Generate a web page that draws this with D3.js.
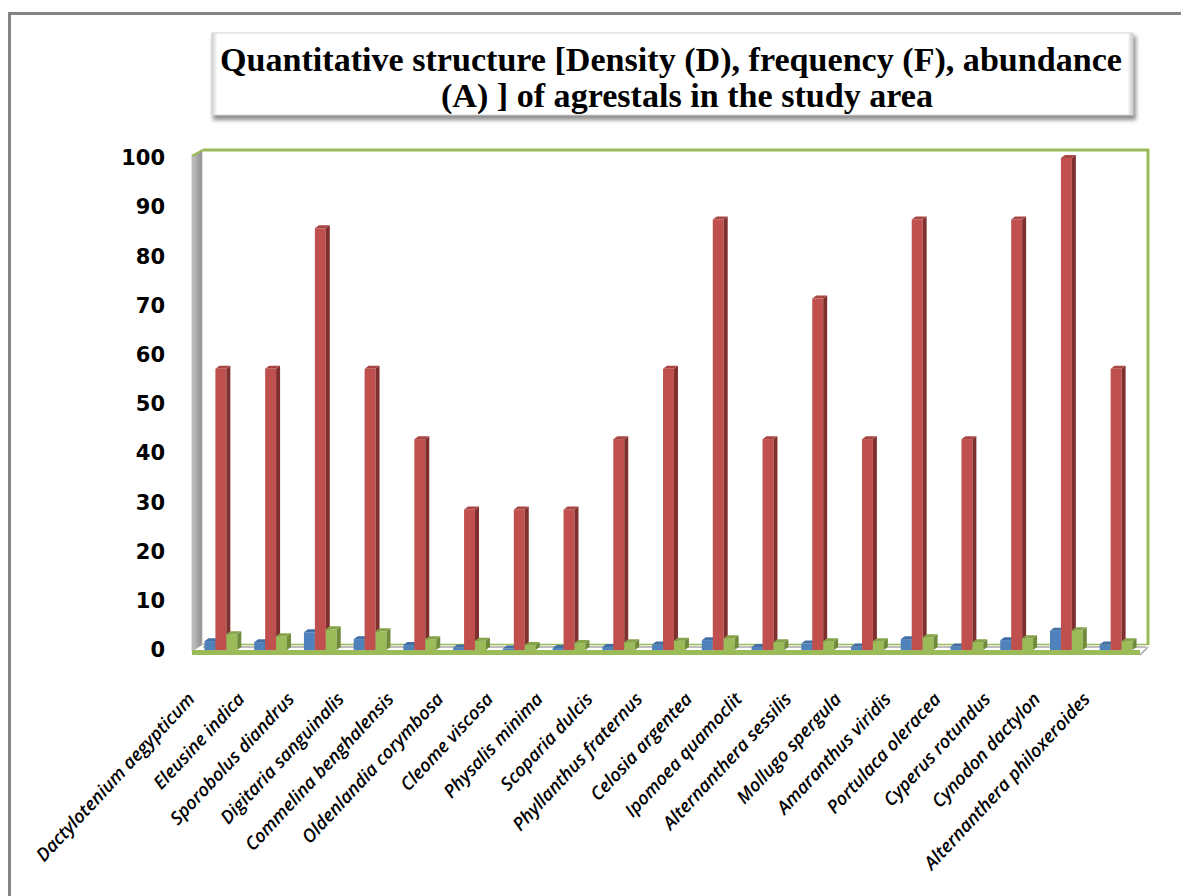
<!DOCTYPE html>
<html>
<head>
<meta charset="utf-8">
<script src="https://cdn.jsdelivr.net/npm/d3@7"></script>
<style>
  html, body { margin: 0; padding: 0; background: #ffffff; }
  svg { display: block; }
</style>
</head>
<body>
<svg id="chart" width="1181" height="896"></svg>
<script>
// ---- data ----
const categories = [
  "Dactylotenium aegypticum", "Eleusine indica", "Sporobolus diandrus",
  "Digitaria sanguinalis", "Commelina benghalensis", "Oldenlandia corymbosa",
  "Cleome viscosa", "Physalis minima", "Scoparia dulcis", "Phyllanthus fraternus",
  "Celosia argentea", "Ipomoea quamoclit", "Alternanthera sessilis",
  "Mollugo spergula", "Amaranthus viridis", "Portulaca oleracea",
  "Cyperus rotundus", "Cynodon dactylon", "Alternanthera philoxeroides"
];
const density   = [1.8, 1.6, 3.6, 2.2, 1.0, 0.5, 0.3, 0.4, 0.6, 1.1, 2.0, 0.6, 1.3, 0.7, 2.2, 0.7, 2.0, 3.9, 1.1];
const frequency = [57.14, 57.14, 85.71, 57.14, 42.86, 28.57, 28.57, 28.57, 42.86, 57.14, 87.5, 42.86, 71.43, 42.86, 87.5, 42.86, 87.5, 100, 57.14];
const abundance = [3.2, 2.8, 4.2, 3.8, 2.2, 1.9, 1.0, 1.4, 1.6, 1.9, 2.4, 1.6, 1.8, 1.8, 2.6, 1.6, 2.4, 4.0, 1.8];
const seriesNames = ["Density (D)", "Frequency (F)", "Abundance (A)"];
const yTicks = [0, 10, 20, 30, 40, 50, 60, 70, 80, 90, 100];
const titleLines = [
  "Quantitative structure [Density (D), frequency (F), abundance",
  "(A) ] of agrestals in the study area"
];

// ---- styling ----
const faceColors = [
  { front: "#4f81bd", side: "#385d8a", top: "#416fa6" },
  { front: "#c0504d", side: "#7f302e", top: "#a94643" },
  { front: "#9bbb59", side: "#6e8a3a", top: "#86a34a" }
];
const wallGreen = "#9bbb59";

const svg = d3.select("#chart");
const defs = svg.append("defs");

// outer chart border
svg.append("rect")
  .attr("x", 9.5).attr("y", 13.5)
  .attr("width", 1300).attr("height", 1000)
  .attr("fill", "#ffffff")
  .attr("stroke", "#858585").attr("stroke-width", 3);

// ---- title box ----
const blur = defs.append("filter").attr("id", "soft").attr("x", "-5%").attr("y", "-20%").attr("width", "110%").attr("height", "150%");
blur.append("feGaussianBlur").attr("stdDeviation", 2);

const tb = { x: 212, y: 33, w: 921, h: 82 };
svg.append("rect")
  .attr("x", tb.x + 1).attr("y", tb.y + 3)
  .attr("width", tb.w + 2).attr("height", tb.h + 2)
  .attr("fill", "#8c8c8c").attr("filter", "url(#soft)");
const tbGrad = defs.append("linearGradient").attr("id", "tbGrad").attr("x1", 0).attr("x2", 1).attr("y1", 0).attr("y2", 0);
tbGrad.append("stop").attr("offset", "0").attr("stop-color", "#d0d0d0");
tbGrad.append("stop").attr("offset", "0.006").attr("stop-color", "#ffffff");
tbGrad.append("stop").attr("offset", "0.994").attr("stop-color", "#ffffff");
tbGrad.append("stop").attr("offset", "1").attr("stop-color", "#c8c8c8");
svg.append("rect")
  .attr("x", tb.x).attr("y", tb.y)
  .attr("width", tb.w).attr("height", tb.h)
  .attr("fill", "url(#tbGrad)")
  .attr("stroke", "#d6d6d6").attr("stroke-width", 1);

const titleFont = "'Liberation Serif', 'DejaVu Serif', serif";
const t1 = svg.append("text")
  .attr("x", 671).attr("y", 71)
  .attr("text-anchor", "middle")
  .style("font-family", titleFont).style("font-weight", "bold").style("font-size", "33px")
  .attr("fill", "#000")
  .text(titleLines[0]);
const t2 = svg.append("text")
  .attr("x", 687).attr("y", 107)
  .attr("text-anchor", "middle")
  .style("font-family", titleFont).style("font-weight", "bold").style("font-size", "33px")
  .attr("fill", "#000")
  .text(titleLines[1]);
// condense the serif lines to the box width
const squeeze = 902 / t1.node().getComputedTextLength();
t1.attr("textLength", 902).attr("lengthAdjust", "spacingAndGlyphs");
t2.attr("textLength", t2.node().getComputedTextLength() * squeeze).attr("lengthAdjust", "spacingAndGlyphs");

// ---- 3D frame ----
const wall = { left: 203, right: 1148, top: 150, bottom: 645 };
const floorFront = { left: 192, right: 1140, top: 650, bottom: 655 };

// back wall
svg.append("rect")
  .attr("x", wall.left).attr("y", wall.top)
  .attr("width", wall.right - wall.left).attr("height", wall.bottom - wall.top)
  .attr("fill", "#ffffff");

// side wall (grey)
const sideGrad = defs.append("linearGradient").attr("id", "sideGrad").attr("x1", 0).attr("x2", 1).attr("y1", 0).attr("y2", 0);
sideGrad.append("stop").attr("offset", "0").attr("stop-color", "#c4c4c4");
sideGrad.append("stop").attr("offset", "1").attr("stop-color", "#8e8e8e");
svg.append("polygon")
  .attr("points", [[192, 156], [202, 150], [202, 645], [192, 651]].join(" "))
  .attr("fill", "url(#sideGrad)")
  .attr("stroke", "#b0b0b0").attr("stroke-width", 0.8);
svg.append("line")
  .attr("x1", 192).attr("y1", 156).attr("x2", 203).attr("y2", 150)
  .attr("stroke", wallGreen).attr("stroke-width", 2.5);

// wall edges (green)
svg.append("path")
  .attr("d", `M${wall.left},${wall.top}H${wall.right}V${wall.bottom}`)
  .attr("fill", "none").attr("stroke", wallGreen).attr("stroke-width", 3);

// floor back edges
svg.append("line")
  .attr("x1", wall.left).attr("x2", wall.right).attr("y1", wall.bottom - 0.5).attr("y2", wall.bottom - 0.5)
  .attr("stroke", wallGreen).attr("stroke-width", 1.6);
svg.append("line")
  .attr("x1", wall.left).attr("x2", wall.right - 2).attr("y1", wall.bottom + 2).attr("y2", wall.bottom + 2)
  .attr("stroke", "#a9a9a9").attr("stroke-width", 1.4);

// ---- scales ----
const y = d3.scaleLinear().domain([0, 100]).range([floorFront.top, 158]);
const x = d3.scaleBand().domain(categories).range([196, 1141]).paddingInner(0.34).paddingOuter(0.17);
const xs = d3.scaleBand().domain(seriesNames).range([0, x.bandwidth()]);
const depth = { dx: 4, dy: -3 };

const seriesValues = [density, frequency, abundance];

// ---- bars ----
const barsG = svg.append("g");
categories.forEach((cat, i) => {
  seriesNames.forEach((s, k) => {
    const v = seriesValues[k][i];
    const bx = x(cat) + xs(s);
    const w = xs.bandwidth();
    const yt = y(v), yb = y(0);
    const c = faceColors[k];
    const g = barsG.append("g");
    g.append("rect")
      .attr("x", bx).attr("y", yt).attr("width", w).attr("height", yb - yt)
      .attr("fill", c.front);
    g.append("polygon")
      .attr("points", [[bx + w, yt], [bx + w + depth.dx, yt + depth.dy], [bx + w + depth.dx, yb + depth.dy], [bx + w, yb]].join(" "))
      .attr("fill", c.side);
    g.append("polygon")
      .attr("points", [[bx, yt], [bx + depth.dx, yt + depth.dy], [bx + w + depth.dx, yt + depth.dy], [bx + w, yt]].join(" "))
      .attr("fill", c.top);
  });
});

// floor front band
svg.append("polygon")
  .attr("points", [[floorFront.left, floorFront.top], [floorFront.right, floorFront.top],
                   [floorFront.right, floorFront.bottom], [floorFront.left, floorFront.bottom]].join(" "))
  .attr("fill", wallGreen);
svg.append("line")
  .attr("x1", floorFront.right).attr("y1", floorFront.bottom)
  .attr("x2", wall.right).attr("y2", wall.bottom + 2)
  .attr("stroke", "#a0a0a0").attr("stroke-width", 1.5);

// ---- y axis labels ----
const yAxis = d3.axisLeft(y).tickValues(yTicks).tickSize(0).tickPadding(0);
const yG = svg.append("g").attr("transform", "translate(165,0)").call(yAxis);
yG.select(".domain").remove();
yG.selectAll("text")
  .style("font-family", "'DejaVu Sans', sans-serif")
  .style("font-weight", "bold")
  .style("font-size", "21px")
  .attr("fill", "#000");

// ---- x axis labels ----
const xG = svg.append("g");
categories.forEach(cat => {
  const cx = x(cat) + x.bandwidth() / 2;
  xG.append("text")
    .attr("transform", `translate(${cx - 25},${700}) rotate(-47)`)
    .attr("text-anchor", "end")
    .style("font-family", "'Open Sans', 'Noto Sans', sans-serif")
    .style("font-style", "italic")
    .style("font-weight", "600")
    .style("font-size", "18.2px")
    .attr("fill", "#000")
    .text(cat);
});
</script>
</body>
</html>
